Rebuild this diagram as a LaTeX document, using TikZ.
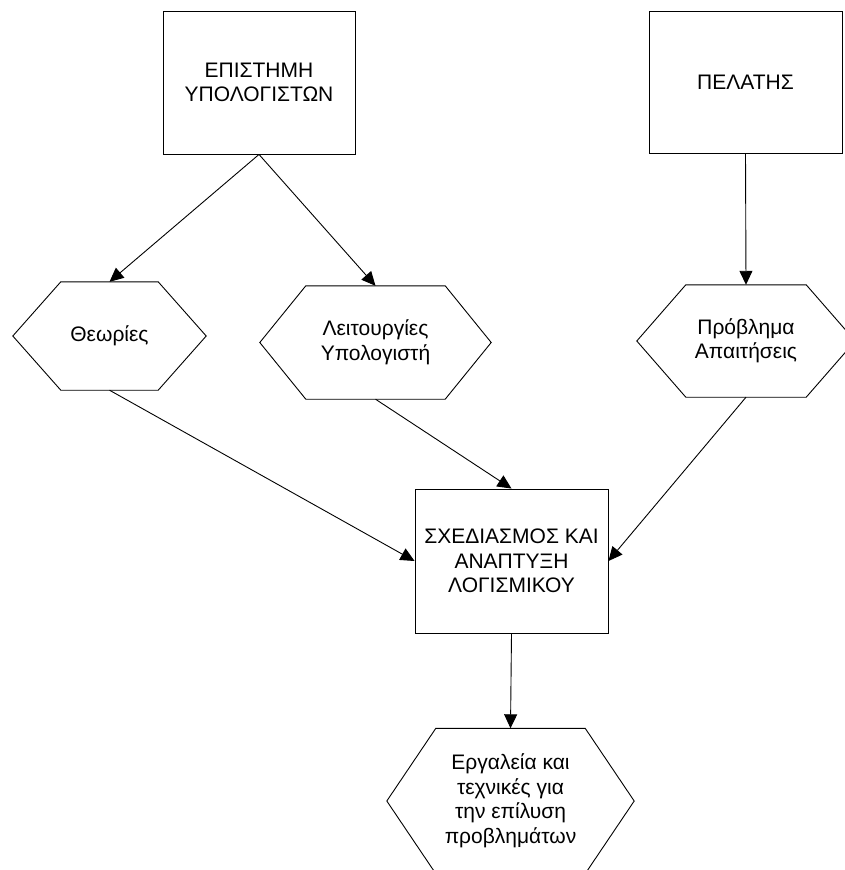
\documentclass[tikz,border=0pt]{standalone}
\usepackage{fontspec}
\setmainfont{Liberation Sans}
\usetikzlibrary{arrows.meta,calc}
\tikzset{
  block/.style   = {draw, rectangle, line width=0.9pt, inner sep=0pt, align=center},
  hexnode/.style = {rectangle, inner sep=0pt, align=center},
  sig/.style     = {-{Triangle[length=14pt,width=13pt]}, line width=0.9pt},
}
% hexagon drawn round a named node: #1 node, #2 depth of the side tips
\newcommand{\hexa}[2]{\draw[line width=0.9pt] (#1.north west) -- (#1.north east)
  -- ($(#1.east)+(#2,0)$) -- (#1.south east) -- (#1.south west)
  -- ($(#1.west)+(-#2,0)$) -- cycle;}

\begin{document}
\begin{tikzpicture}[x=1pt,y=-1pt,font=\fontsize{21}{24.5}\selectfont]
\useasboundingbox (0,0) rectangle (845,870);
\node[block,minimum width=192pt,minimum height=143pt] (CS) at (259,82.5) {ΕΠΙΣΤΗΜΗ\\ΥΠΟΛΟΓΙΣΤΩΝ};
\node[block,minimum width=193pt,minimum height=142pt] (CL) at (745.5,82) {ΠΕΛΑΤΗΣ};
\node[hexnode,minimum width=97pt,minimum height=108pt] (TH) at (109.5,336) {Θεωρίες};
\node[hexnode,minimum width=139pt,minimum height=113pt] (CF) at (375.5,342.5) {Λειτουργίες\\Υπολογιστή};
\node[hexnode,minimum width=120pt,minimum height=112pt] (PR) at (746,341) {Πρόβλημα\\Απαιτήσεις};
\node[block,minimum width=193pt,minimum height=144pt] (SD) at (511.5,561) {ΣΧΕΔΙΑΣΜΟΣ ΚΑΙ\\ΑΝΑΠΤΥΞΗ\\ΛΟΓΙΣΜΙΚΟΥ};
\node[hexnode,minimum width=149pt,minimum height=145pt] (TL) at (510.5,801) {Εργαλεία και\\τεχνικές για\\την επίλυση\\προβλημάτων};
\hexa{TH}{48}
\hexa{CF}{46}
\hexa{PR}{49}
\hexa{TL}{49}
% top row down to the hexagons
\draw[sig] (CS.south) -- (TH.north);
\draw[sig] (CS.south) -- (CF.north);
\draw[sig] (CL.south) -- (PR.north);
% into the design box and out
\draw[sig] (TH.south) -- (SD.west);
\draw[sig] (CF.south) -- (SD.north);
\draw[sig] (PR.south) -- (SD.east);
\draw[sig] (SD.south) -- (TL.north);
\end{tikzpicture}
\end{document}
